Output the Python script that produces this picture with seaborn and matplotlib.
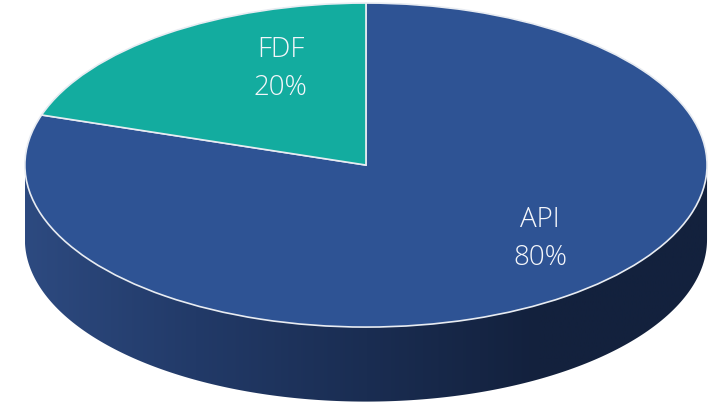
import numpy as np
import matplotlib
matplotlib.use("Agg")
import matplotlib.pyplot as plt
from matplotlib.colors import LinearSegmentedColormap
from matplotlib.patches import Polygon
import seaborn as sns

labels = ["API", "FDF"]
shares = [80, 20]
colors = ["#2e5394", "#13ac9f"]

sns.set_theme(style="white")
plt.rcParams["font.family"] = ["Open Sans", "DejaVu Sans"]

fig = plt.figure(figsize=(7.2, 4.06), dpi=100)
ax = fig.add_axes([0, 0, 1, 1])

depth = 0.46

# side of the 3d disc: horizontal gradient clipped to the rim shape
t = np.linspace(0, np.pi, 200)
upper = np.column_stack([np.cos(t), np.sin(t)])
lower = np.column_stack([np.cos(t + np.pi), np.sin(t + np.pi) - depth])
rim = Polygon(np.vstack([upper, lower]), closed=True, facecolor="none", edgecolor="none")
ax.add_patch(rim)
side_cmap = LinearSegmentedColormap.from_list("side", ["#2d4a80", "#223a68", "#1a2d52", "#13213d", "#13213d"])
grad = np.linspace(0, 1, 256).reshape(1, -1)
img = ax.imshow(grad, cmap=side_cmap, extent=[-1, 1, -1 - depth, 1], aspect="auto", zorder=1)
img.set_clip_path(rim)

wedges, texts, pcts = ax.pie(
    shares, colors=colors, startangle=90, counterclock=False,
    autopct="%1.0f%%", pctdistance=0.65,
    wedgeprops=dict(edgecolor="#e8ecf2", linewidth=1.2),
    textprops=dict(color="#f4f6fa", fontsize=20, fontweight="light"),
)
for w in wedges:
    w.set_zorder(2)

for lab, pct in zip(labels, pcts):
    pct.set_text(f"{lab}\n{pct.get_text()}")
    pct.set_linespacing(1.5)
    pct.set_zorder(3)
pcts[0].set_position((0.51, -0.45))
pcts[1].set_position((-0.25, 0.6))

ax.set_aspect("auto")
ax.set_xlim(-1.073, 1.038)
ax.set_ylim(-1.481, 1.025)
ax.axis("off")

fig.savefig("out.png", dpi=100)
